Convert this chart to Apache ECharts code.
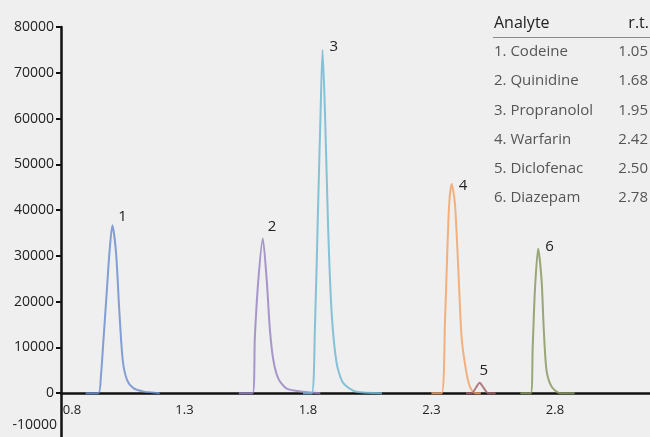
<!DOCTYPE html>
<html>
<head>
<meta charset="utf-8">
<script src="https://cdn.jsdelivr.net/npm/echarts@6/dist/echarts.min.js"></script>
<style>
  html, body { margin: 0; padding: 0; background: #efefef; }
  #chart { width: 650px; height: 437px; }
</style>
</head>
<body>
<div id="chart"></div>
<script>
// peaks: [time (min), response]
const codeine = [[0.90, 0], [0.951, 0], [0.962, 4000], [0.971, 10900], [0.985, 21900], [0.996, 30600], [1.008, 36700], [1.023, 30600], [1.036, 18100], [1.050, 7200], [1.068, 2800], [1.093, 1100], [1.132, 400], [1.20, 0]];
const quinidine = [[1.52, 0], [1.576, 0], [1.585, 12300], [1.599, 24700], [1.617, 33800], [1.633, 24700], [1.646, 13800], [1.660, 7200], [1.680, 3200], [1.714, 1000], [1.781, 300], [1.85, 0]];
const propranolol = [[1.78, 0], [1.815, 0], [1.828, 13800], [1.842, 42900], [1.851, 61100], [1.859, 75000], [1.869, 61100], [1.882, 35600], [1.896, 17500], [1.916, 6600], [1.943, 2200], [1.997, 300], [2.10, 0]];
const warfarin = [[2.30, 0], [2.341, 0], [2.355, 16000], [2.364, 30500], [2.372, 41500], [2.382, 45700], [2.395, 41500], [2.409, 26900], [2.422, 12300], [2.440, 5000], [2.456, 1400], [2.476, 0], [2.50, 0]];
const diclofenac = [[2.44, 0], [2.463, 0], [2.480, 1200], [2.495, 2300], [2.510, 1300], [2.530, 0], [2.56, 0]];
const diazepam = [[2.66, 0], [2.702, 0], [2.710, 10100], [2.719, 22500], [2.732, 31600], [2.746, 24700], [2.755, 13800], [2.766, 5000], [2.787, 1400], [2.820, 0], [2.88, 0]];

const analytes = ['1. Codeine', '2. Quinidine', '3. Propranolol', '4. Warfarin', '5. Diclofenac', '6. Diazepam'];
const retention = ['1.05', '1.68', '1.95', '2.42', '2.50', '2.78'];
const peakNumbers = ['1', '2', '3', '4', '5', '6'];

const traces = [codeine, quinidine, propranolol, warfarin, diclofenac, diazepam];
const colors = ['#6f8fcc', '#9a86c2', '#72b9d2', '#f2a56a', '#a5646c', '#899a62'];
const labelOffsets = [[2, -8], [1, -12], [3, -3], [3, 2], [-4, -12], [3, -2]];

const chart = echarts.init(document.getElementById('chart'));

const series = traces.map((pts, i) => {
  let top = 0;
  pts.forEach((p, k) => { if (p[1] > pts[top][1]) top = k; });
  return {
    type: 'line',
    smooth: 0.25,
    showSymbol: false,
    silent: true,
    z: 1,
    lineStyle: { color: colors[i], width: 2, opacity: 0.85 },
    itemStyle: { color: colors[i] },
    data: pts,
    markPoint: {
      symbol: 'circle',
      symbolSize: 0,
      silent: true,
      data: [{
        coord: pts[top],
        label: {
          show: true,
          formatter: peakNumbers[i],
          position: 'right',
          distance: 4,
          offset: labelOffsets[i],
          color: '#222',
          fontSize: 15,
          fontFamily: 'Open Sans'
        }
      }]
    }
  };
});

// table in the upper right
const rowTop = 52, rowStep = 29.2;
const table = [
  { type: 'text', x: 494, y: 23, style: { text: 'Analyte', fill: '#222', font: '16px "Open Sans"', verticalAlign: 'middle' } },
  { type: 'text', x: 649, y: 23, style: { text: 'r.t.', fill: '#222', font: '16px "Open Sans"', align: 'right', verticalAlign: 'middle' } },
  { type: 'line', shape: { x1: 493, y1: 37.5, x2: 650, y2: 37.5 }, style: { stroke: '#8a8a8a', lineWidth: 1 } },
  { type: 'text', x: 57, y: 425, style: { text: '-10000', fill: '#222', font: '14px "Open Sans"', align: 'right', verticalAlign: 'middle' } }
];
analytes.forEach((name, i) => {
  table.push({ type: 'text', x: 494, y: rowTop + i * rowStep, style: { text: name, fill: '#555', font: '15px "Open Sans"', verticalAlign: 'middle' } });
  table.push({ type: 'text', x: 648, y: rowTop + i * rowStep, style: { text: retention[i], fill: '#555', font: '15px "Open Sans"', align: 'right', verticalAlign: 'middle' } });
});

chart.setOption({
  backgroundColor: '#efefef',
  animation: false,
  grid: { left: 61, right: 0, top: 27, bottom: -2, containLabel: false, outerBoundsMode: 'none' },
  xAxis: {
    type: 'value',
    min: 0.8,
    max: 3.185,
    interval: 0.5,
    offset: -45.75,
    axisLine: { onZero: false, lineStyle: { color: '#111', width: 2.5 } },
    axisTick: { show: false },
    splitLine: { show: false },
    axisLabel: {
      showMaxLabel: false,
      margin: 11,
      color: '#222',
      fontSize: 13,
      fontFamily: 'Open Sans',
      formatter: v => Math.abs(v - 0.8) < 1e-6 ? '{first|0.8}' : v.toFixed(1),
      rich: { first: { padding: [0, 0, 0, 22], fontSize: 13, fontFamily: 'Open Sans', color: '#222' } }
    }
  },
  yAxis: {
    type: 'value',
    min: -10000,
    max: 80000,
    interval: 10000,
    axisLine: { show: true, onZero: false, lineStyle: { color: '#111', width: 2.5 } },
    axisTick: { show: true, length: 5, lineStyle: { color: '#111', width: 2 } },
    splitLine: { show: false },
    axisLabel: {
      margin: 7,
      color: '#222',
      fontSize: 14,
      fontFamily: 'Open Sans',
      formatter: v => v === -10000 ? '' : String(v)
    }
  },
  graphic: table,
  series: series
});
</script>
</body>
</html>
